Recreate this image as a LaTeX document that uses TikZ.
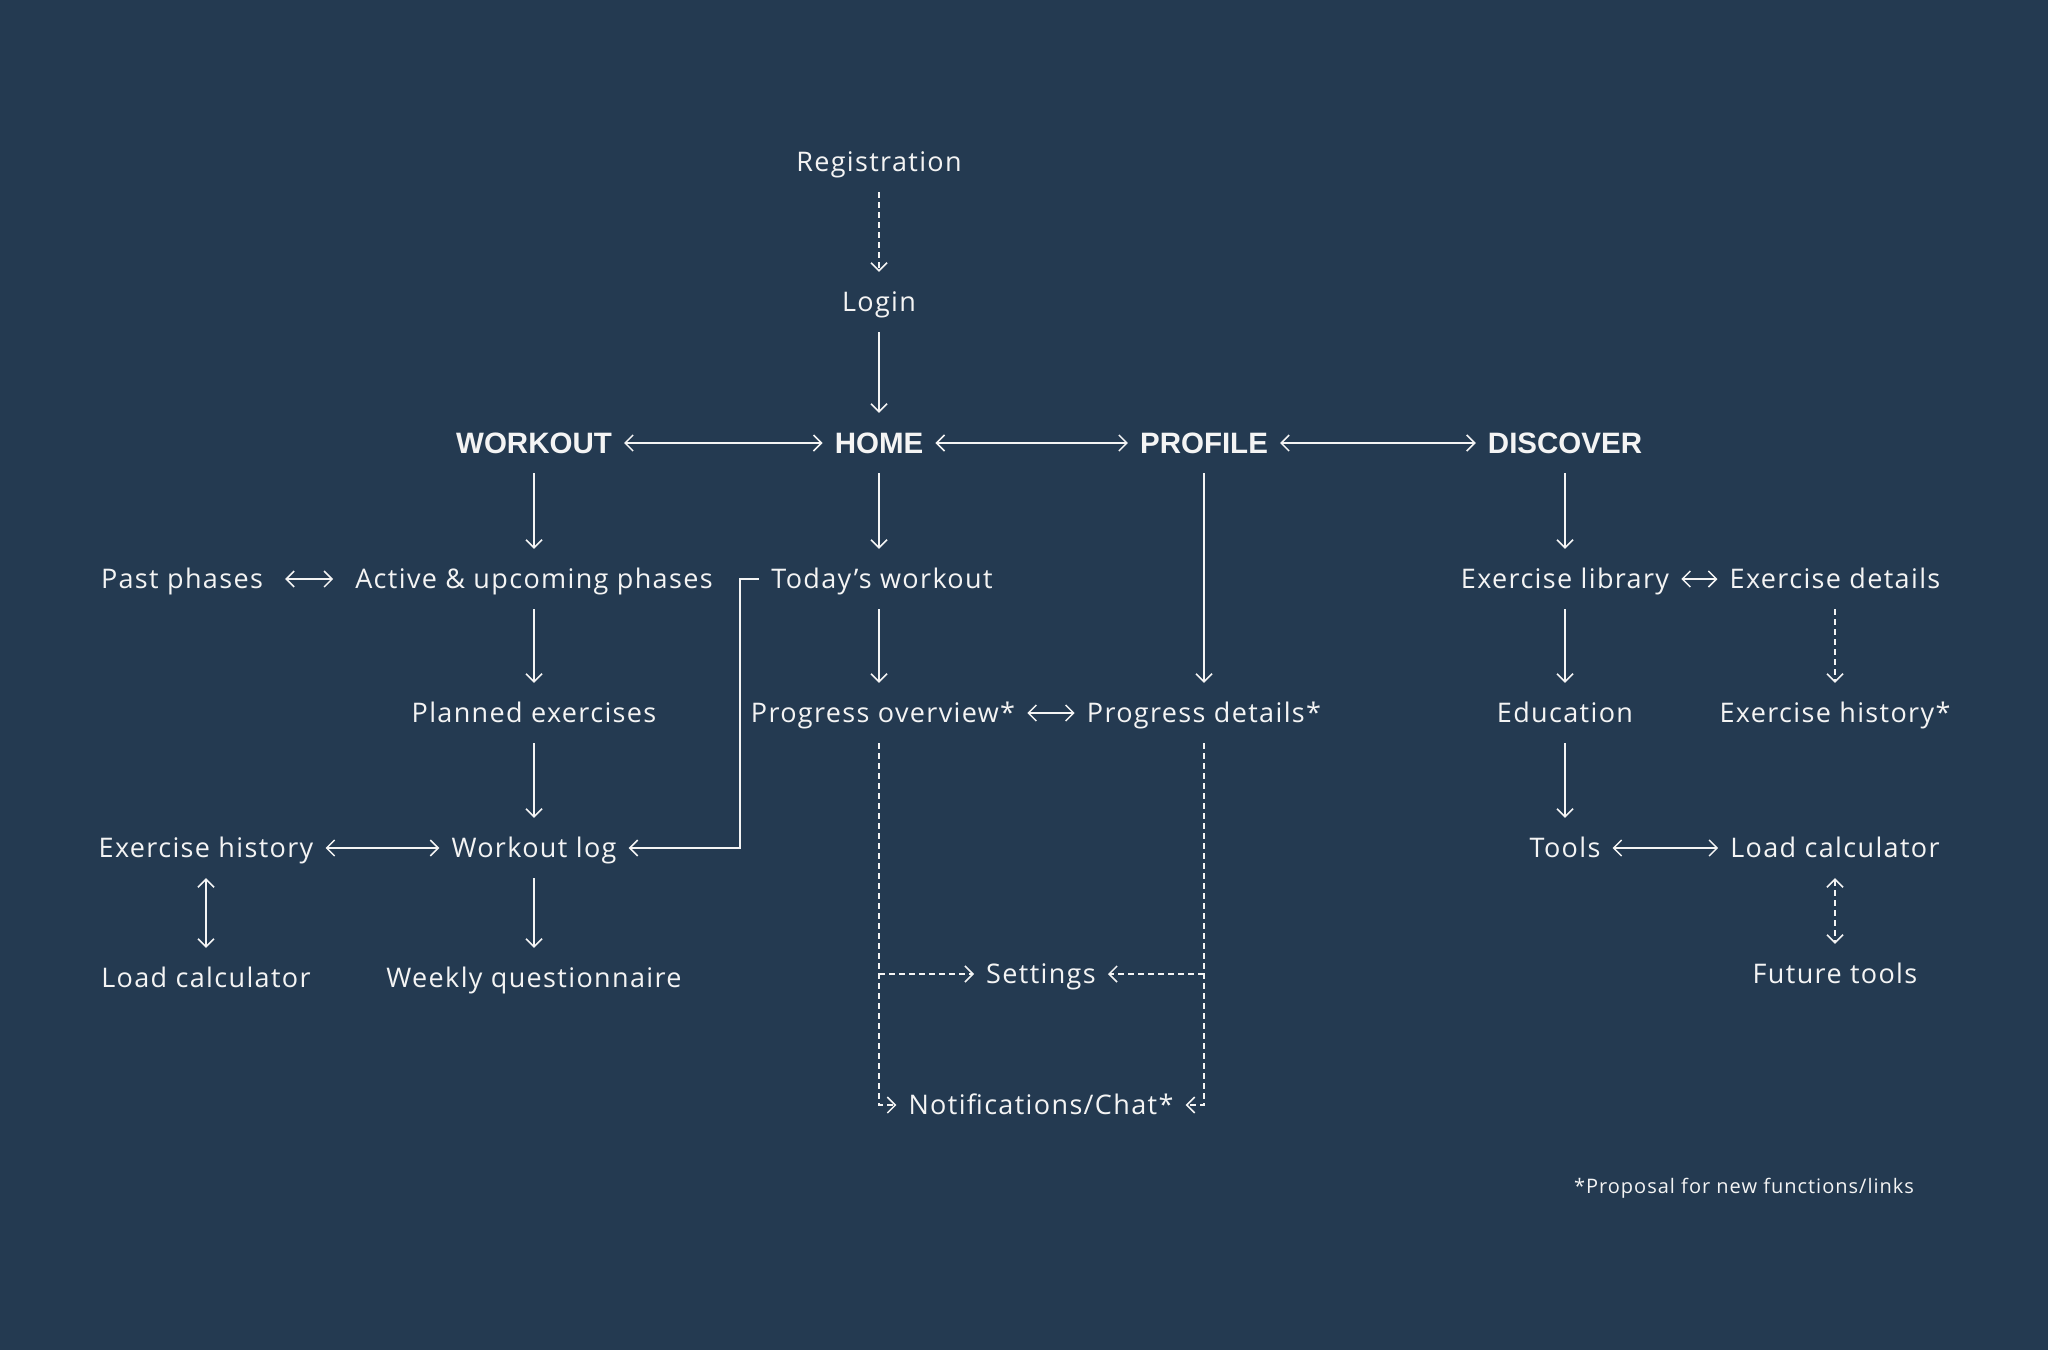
\documentclass[tikz,border=0pt]{standalone}
\usepackage{fontspec}
\setmainfont{Open Sans}[LetterSpace=5.0]
\newfontfamily\headfont{Liberation Sans}
\usetikzlibrary{arrows.meta}
\definecolor{bgc}{HTML}{243A51}
\definecolor{fgc}{HTML}{F4F4F4}
\tikzset{
  lbl/.style={text=fgc, font=\fontsize{27}{31}\selectfont, inner xsep=12pt, inner ysep=0pt,
    minimum height=60pt, text height=24pt, text depth=6pt},
  hd/.style={lbl, font=\headfont\bfseries\fontsize{29.5}{33}\selectfont, text height=26pt, text depth=6pt},
  lnk/.style={draw=fgc, line width=1.5pt, -{Straight Barb[length=8pt,width=16pt]}},
  lnk2/.style={lnk, {Straight Barb[length=8pt,width=16pt]}-{Straight Barb[length=8pt,width=16pt]}},
  prop/.style={dash pattern=on 6pt off 4pt},
}
\begin{document}
\begin{tikzpicture}[x=1pt, y=-1pt]
      \fill[bgc] (0,0) rectangle (2048,1350);

      \node[lbl] (reg) at (879,162) {Registration};
      \node[lbl] (log) at (879,302) {Login};
      \node[hd] (wo) at (534,443) {WORKOUT};
      \node[hd] (hm) at (879,443) {HOME};
      \node[hd] (pf) at (1204,443) {PROFILE};
      \node[hd] (dc) at (1565,443) {DISCOVER};
      \node[lbl] (pp) at (182,579) {Past phases};
      \node[lbl] (ap) at (534,579) {Active \& upcoming phases};
      \node[lbl] (tw) at (882,579) {Today’s workout};
      \node[lbl] (el) at (1565,579) {Exercise library};
      \node[lbl] (ed) at (1835,579) {Exercise details};
      \node[lbl] (pe) at (534,713) {Planned exercises};
      \node[lbl] (po) at (883,713) {Progress overview*};
      \node[lbl] (pd) at (1204,713) {Progress details*};
      \node[lbl] (eu) at (1565,713) {Education};
      \node[lbl] (eh2) at (1835,713) {Exercise history*};
      \node[lbl] (eh) at (206,848) {Exercise history};
      \node[lbl] (wl) at (534,848) {Workout log};
      \node[lbl] (tl) at (1565,848) {Tools};
      \node[lbl] (lc2) at (1835,848) {Load calculator};
      \node[lbl] (lc) at (206,978) {Load calculator};
      \node[lbl] (wq) at (534,978) {Weekly questionnaire};
      \node[lbl] (st) at (1041,974) {Settings};
      \node[lbl] (ft) at (1835,974) {Future tools};
      \node[lbl] (nc) at (1041,1105) {Notifications/Chat*};
      \node[lbl, font=\fontsize{20}{23}\selectfont, text height=14pt, text depth=4pt, minimum height=0pt] (fn) at (1744,1188) {*Proposal for new functions/links};

      \draw[lnk, prop] (reg) -- (log);
      \draw[lnk] (log) -- (hm);
      \draw[lnk2] (wo) -- (hm);
      \draw[lnk2] (hm) -- (pf);
      \draw[lnk2] (pf) -- (dc);

      \draw[lnk] (wo) -- (ap);
      \draw[lnk] (hm) -- (hm |- tw.north);
      \draw[lnk] (pf) -- (pd);
      \draw[lnk] (dc) -- (el);

      \draw[lnk2, shorten <=10pt, shorten >=10pt] (pp) -- (ap);
      \draw[lnk2] (el) -- (ed);
      \draw[lnk] (ap) -- (pe);
      \draw[lnk] (hm |- tw.south) -- (hm |- po.north);
      \draw[lnk] (el) -- (eu);
      \draw[lnk, prop] (ed) -- (eh2);
      \draw[lnk2] (po) -- (pd);

      \draw[lnk] (pe) -- (wl);
      \draw[lnk] (eu) -- (tl);
      \draw[lnk2] (eh) -- (wl);
      \draw[lnk2] (tl) -- (lc2);
      \draw[lnk2] (eh) -- (lc);
      \draw[lnk] (wl) -- (wq);
      \draw[lnk2, prop] (lc2) -- (ft);

      \coordinate (bd) at (740,579);
      \draw[lnk] (tw.west) -- (bd) |- (wl.east);

      \draw[lnk, prop] (hm |- po.south) |- (nc.west);
      \draw[lnk, prop] (hm |- st) -- (st.west);
      \draw[lnk, prop] (pd.south) |- (nc.east);
      \draw[lnk, prop] (pf |- st) -- (st.east);
\end{tikzpicture}
\end{document}
